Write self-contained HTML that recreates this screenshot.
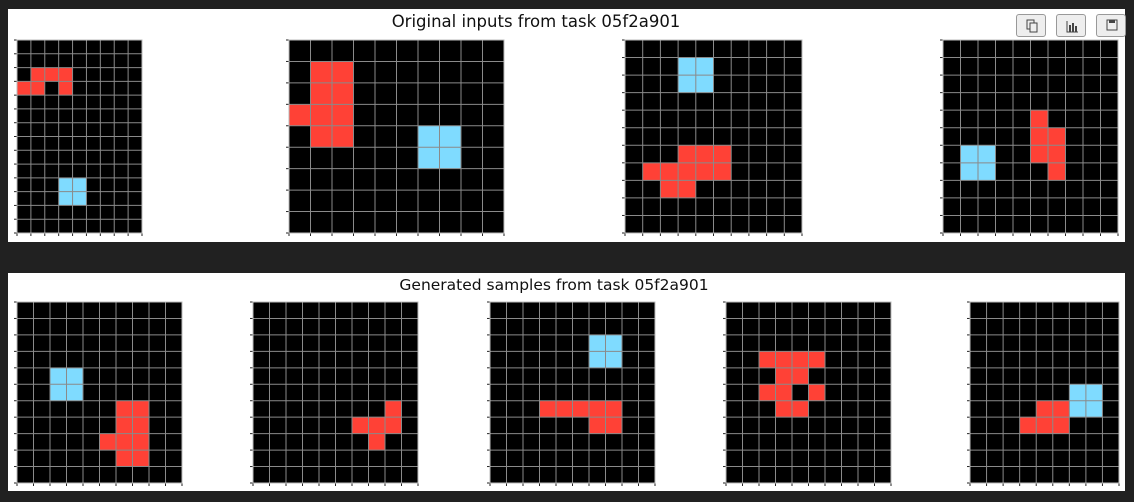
<!DOCTYPE html>
<html><head><meta charset="utf-8">
<style>
html,body{margin:0;padding:0;background:#212121;width:1134px;height:502px;overflow:hidden;font-family:"DejaVu Sans","Liberation Sans",sans-serif;}
.panel{position:absolute;left:8px;width:1117px;background:#fff;}
.title{position:absolute;width:600px;text-align:center;color:#111;white-space:nowrap;}
.btn{position:absolute;top:14px;width:30px;height:23px;border:1px solid #999;border-radius:3px;background:#eee;box-sizing:border-box;}
svg{position:absolute;left:0;top:0;}
</style></head>
<body>
<div class="panel" style="top:9px;height:233px;"></div>
<div class="panel" style="top:273px;height:218px;"></div>
<div class="title" style="left:236px;top:12px;font-size:16.5px;">Original inputs from task 05f2a901</div>
<div class="title" style="left:254px;top:276px;font-size:15.5px;">Generated samples from task 05f2a901</div>
<div class="btn" style="left:1016px;"><svg width="30" height="23" style="position:static"><rect x="10" y="5" width="7" height="9" fill="none" stroke="#444"/><rect x="13" y="8" width="7" height="9" fill="#eee" stroke="#444"/></svg></div>
<div class="btn" style="left:1056px;"><svg width="30" height="23" style="position:static"><path d="M10 6V17H21" fill="none" stroke="#444"/><rect x="12" y="10" width="2" height="7" fill="#444"/><rect x="15" y="8" width="2" height="9" fill="#444"/><rect x="18" y="11" width="2" height="6" fill="#444"/></svg></div>
<div class="btn" style="left:1096px;"><svg width="30" height="23" style="position:static"><rect x="10" y="5" width="10" height="10" fill="none" stroke="#444"/><rect x="12" y="5" width="6" height="3" fill="#444"/></svg></div>
<svg id="s" width="1134" height="502"></svg>
<script>
const gridNames = ["input-1","input-2","input-3","input-4","sample-1","sample-2","sample-3","sample-4","sample-5"];
const gridBoxes = [[17,40,142,233],[289,40,504,233],[625,40,802,233],[943,40,1118,233],[17,302,182,483],[253,302,418,483],[490,302,655,483],[726,302,891,483],[970,302,1119,483]];
const gridCols = [9,10,10,10,10,10,10,10,9];
const gridRows = [14,9,11,11,11,11,11,11,11];
const R="r", C="c";
const gridCells = [
 [[2,1,R],[2,2,R],[2,3,R],[3,0,R],[3,1,R],[3,3,R],[10,3,C],[10,4,C],[11,3,C],[11,4,C]],
 [[1,1,R],[1,2,R],[2,1,R],[2,2,R],[3,0,R],[3,1,R],[3,2,R],[4,1,R],[4,2,R],[4,6,C],[4,7,C],[5,6,C],[5,7,C]],
 [[1,3,C],[1,4,C],[2,3,C],[2,4,C],[6,3,R],[6,4,R],[6,5,R],[7,1,R],[7,2,R],[7,3,R],[7,4,R],[7,5,R],[8,2,R],[8,3,R]],
 [[4,5,R],[5,5,R],[5,6,R],[6,5,R],[6,6,R],[7,6,R],[6,1,C],[6,2,C],[7,1,C],[7,2,C]],
 [[4,2,C],[4,3,C],[5,2,C],[5,3,C],[6,6,R],[6,7,R],[7,6,R],[7,7,R],[8,5,R],[8,6,R],[8,7,R],[9,6,R],[9,7,R]],
 [[6,8,R],[7,6,R],[7,7,R],[7,8,R],[8,7,R]],
 [[2,6,C],[2,7,C],[3,6,C],[3,7,C],[6,3,R],[6,4,R],[6,5,R],[6,6,R],[6,7,R],[7,6,R],[7,7,R]],
 [[3,2,R],[3,3,R],[3,4,R],[3,5,R],[4,3,R],[4,4,R],[5,2,R],[5,3,R],[5,5,R],[6,3,R],[6,4,R]],
 [[5,6,C],[5,7,C],[6,6,C],[6,7,C],[6,4,R],[6,5,R],[7,3,R],[7,4,R],[7,5,R]]
];
const colorMap = {r:"#ff4136", c:"#7fdbff"};
const svg = document.getElementById('s');
const NS = "http://www.w3.org/2000/svg";
function mk(tag, attrs){const e=document.createElementNS(NS,tag);for(const k in attrs)e.setAttribute(k,attrs[k]);svg.appendChild(e);return e;}
gridBoxes.forEach((b,gi)=>{
  const [x0,y0,x1,y1]=b, nc=gridCols[gi], nr=gridRows[gi];
  const cw=(x1-x0)/nc, ch=(y1-y0)/nr;
  const xs=c=>x0+c*cw, ys=r=>y0+r*ch;
  const bg=mk('rect',{x:x0,y:y0,width:x1-x0,height:y1-y0,fill:'#000'});
  
  
  gridCells[gi].forEach(([r,c,k])=>{
    const e=mk('rect',{x:xs(c),y:ys(r),width:cw,height:ch,fill:colorMap[k]});
    
    
  });
  for(let c=0;c<=nc;c++){
    mk('line',{x1:xs(c),y1:y0,x2:xs(c),y2:y1,stroke:'#8a8a8a','stroke-width':1});
    mk('line',{x1:xs(c),y1:y1,x2:xs(c),y2:y1+3,stroke:'#222','stroke-width':1});
  }
  for(let r=0;r<=nr;r++){
    mk('line',{x1:x0,y1:ys(r),x2:x1,y2:ys(r),stroke:'#8a8a8a','stroke-width':1});
    mk('line',{x1:x0-3,y1:ys(r),x2:x0,y2:ys(r),stroke:'#222','stroke-width':1});
  }
  mk('rect',{x:x0,y:y0,width:x1-x0,height:y1-y0,fill:'none',stroke:'#bbb','stroke-width':1});
});
</script>
</body></html>
